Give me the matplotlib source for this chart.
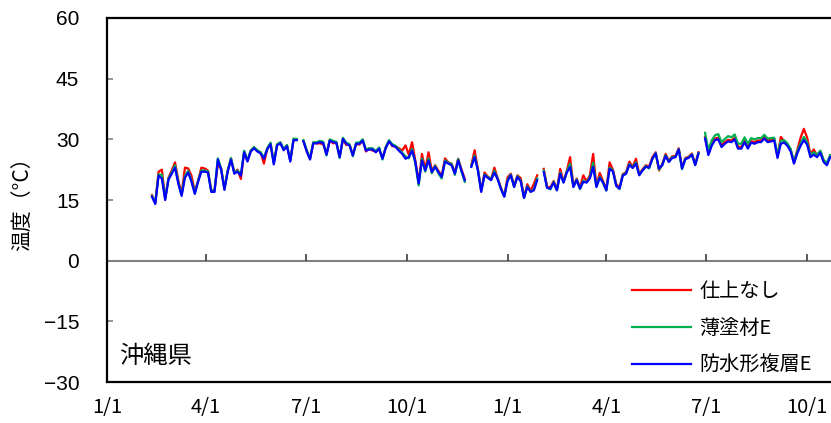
import matplotlib
matplotlib.use('Agg')
import matplotlib.pyplot as plt
import numpy as np
import pandas as pd

nan = np.nan

# --- Daily surface temperature, sampled every 3 days from 2/11 (°C) ---
start_date = '2013-02-11'
sample_step = '3D'

temp_bare = [
    16.2, 14.3, 22.0, 22.5, 15.3, 20.5, 22.3, 24.3, 19.8, 16.5,
    23.0, 22.8, 21.0, 17.0, 19.8, 23.0, 22.8, 22.3, 17.3, 17.5,
    23.8, 22.8, 17.8, 22.3, 25.3, 21.8, 22.5, 20.2, 27.0, 24.8,
    27.2, 28.0, 27.2, 26.8, 24.0, 27.7, 29.0, 24.2, 28.7, 29.2,
    27.5, 28.5, 24.8, 30.0, 30.0, nan, 29.6, 27.2, 25.2, 29.2,
    29.0, 29.0, 28.8, 26.4, 29.8, 29.0, 29.2, 25.8, 30.0, 28.6,
    28.7, 26.2, 28.8, 28.7, 29.8, 27.0, 27.8, 27.2, 27.0, 27.5,
    25.4, 28.0, 29.6, 28.3, 28.3, 27.8, 27.2, 28.5, 26.2, 29.3,
    24.7, 19.3, 26.4, 22.6, 26.8, 22.2, 23.6, 22.2, 21.0, 25.3,
    24.3, 24.0, 21.8, 25.2, 22.6, 20.2, nan, 23.6, 27.3, 22.6,
    17.3, 21.8, 20.8, 20.2, 23.0, 20.4, 18.0, 16.0, 20.6, 21.5,
    18.5, 21.1, 20.4, 15.7, 18.9, 17.3, 19.0, 21.1, nan, 22.7,
    18.3, 18.1, 19.7, 17.6, 22.7, 19.6, 22.2, 25.6, 18.5, 20.3,
    18.1, 21.1, 19.6, 21.1, 26.4, 18.5, 21.7, 19.7, 17.6, 24.3,
    22.5, 19.0, 18.0, 21.4, 21.9, 24.5, 23.2, 25.2, 21.4, 22.6,
    23.6, 23.3, 25.6, 26.8, 22.3, 23.9, 26.4, 24.7, 25.8, 25.9,
    27.8, 23.1, 25.4, 25.7, 26.5, 23.9, 26.8, nan, 30.6, 26.4,
    28.8, 30.2, 30.4, 28.5, 29.3, 29.9, 29.7, 30.4, 28.1, 28.1,
    29.7, 28.1, 29.6, 29.3, 29.7, 29.7, 30.6, 29.7, 29.9, 30.1,
    25.8, 30.6, 29.6, 28.8, 27.4, 24.3, 27.3, 30.4, 32.6, 30.4,
    26.3, 27.5, 26.0, 27.1, 24.8, 23.9, 26.0,
]

temp_thin = [
    16.0, 14.3, 21.3, 21.2, 15.3, 20.3, 21.8, 23.6, 19.3, 16.3,
    21.0, 22.2, 19.8, 16.8, 19.8, 22.3, 22.3, 22.1, 17.3, 17.3,
    25.3, 22.8, 17.8, 22.3, 25.4, 21.8, 22.3, 21.3, 27.2, 24.8,
    27.3, 28.1, 27.3, 26.8, 25.5, 27.8, 29.2, 24.1, 28.8, 29.3,
    27.6, 28.6, 24.8, 30.2, 30.1, nan, 29.8, 27.3, 25.3, 29.3,
    29.3, 29.6, 29.4, 26.0, 30.0, 29.6, 29.4, 25.4, 30.4, 29.2,
    28.8, 25.8, 29.2, 29.2, 30.0, 27.5, 27.8, 27.8, 27.1, 28.0,
    25.0, 28.1, 29.8, 28.8, 28.4, 27.5, 26.7, 25.8, 25.3, 27.6,
    24.0, 18.6, 25.2, 22.0, 25.3, 21.6, 23.5, 21.6, 20.3, 24.8,
    24.2, 23.9, 21.2, 25.1, 22.0, 19.5, nan, 23.4, 26.0, 22.5,
    17.2, 21.3, 20.7, 20.1, 22.2, 20.3, 17.8, 15.9, 19.9, 21.3,
    18.3, 20.9, 19.8, 15.6, 18.4, 17.1, 17.7, 20.3, nan, 22.3,
    18.1, 17.6, 19.5, 17.4, 21.8, 19.4, 22.0, 24.0, 18.3, 20.1,
    17.7, 19.8, 19.4, 20.6, 24.2, 18.3, 20.7, 19.4, 17.3, 23.0,
    22.3, 18.6, 17.7, 21.2, 21.7, 23.9, 23.1, 24.3, 21.2, 22.3,
    23.4, 22.8, 25.2, 26.6, 22.5, 23.7, 26.1, 24.5, 25.6, 25.7,
    27.6, 22.6, 25.2, 25.5, 26.3, 23.7, 26.6, nan, 31.6, 27.3,
    29.7, 31.0, 31.3, 29.3, 30.1, 30.8, 30.5, 31.2, 28.9, 28.9,
    30.5, 28.9, 30.3, 30.0, 30.3, 30.3, 31.1, 30.2, 30.3, 30.4,
    26.0, 29.6, 29.8, 29.0, 27.6, 24.5, 27.0, 29.0, 30.6, 29.3,
    26.1, 26.8, 26.2, 27.2, 24.9, 24.2, 26.1,
]

temp_multi = [
    15.8, 14.0, 21.0, 20.3, 15.0, 20.0, 21.5, 23.0, 19.0, 16.0,
    20.5, 21.8, 19.5, 16.5, 19.5, 22.0, 22.0, 21.8, 17.0, 17.0,
    25.0, 22.5, 17.5, 22.0, 25.0, 21.5, 22.0, 21.0, 26.8, 24.5,
    27.0, 27.8, 27.0, 26.5, 25.2, 27.5, 28.8, 23.8, 28.5, 29.0,
    27.3, 28.3, 24.5, 29.8, 29.8, nan, 29.5, 27.0, 25.0, 29.0,
    29.0, 29.3, 29.1, 26.2, 29.7, 29.3, 29.1, 25.6, 30.1, 28.9,
    28.5, 26.0, 28.9, 28.9, 29.7, 27.2, 27.5, 27.5, 26.8, 27.7,
    25.2, 27.8, 29.5, 28.5, 28.1, 27.2, 26.4, 25.2, 25.6, 27.2,
    24.4, 19.1, 24.8, 22.3, 24.8, 21.9, 23.2, 21.9, 20.7, 24.5,
    24.0, 23.6, 21.5, 24.8, 22.3, 19.9, nan, 23.2, 25.6, 22.3,
    17.0, 21.1, 20.5, 19.9, 21.8, 20.1, 17.7, 15.8, 19.7, 21.1,
    18.2, 20.7, 19.6, 15.5, 18.2, 17.0, 17.4, 19.9, nan, 21.9,
    18.0, 17.8, 19.3, 17.4, 21.5, 19.3, 21.8, 23.2, 18.2, 19.9,
    17.8, 19.5, 19.3, 20.3, 23.2, 18.2, 20.5, 19.3, 17.4, 22.7,
    22.1, 18.5, 17.8, 21.0, 21.5, 23.7, 22.9, 24.0, 21.1, 22.3,
    23.2, 23.0, 25.2, 26.5, 22.8, 23.6, 25.9, 24.4, 25.4, 25.6,
    27.5, 22.8, 25.1, 25.4, 26.2, 23.6, 26.5, nan, 30.2, 26.1,
    28.4, 29.8, 30.0, 28.1, 28.9, 29.5, 29.3, 30.0, 27.7, 27.7,
    29.3, 27.7, 29.2, 28.9, 29.3, 29.3, 30.2, 29.3, 29.5, 29.7,
    25.4, 28.9, 29.2, 28.4, 27.0, 24.0, 26.5, 28.4, 29.8, 28.7,
    25.6, 26.2, 25.6, 26.7, 24.4, 23.6, 25.6,
]

series_labels = ['仕上なし', '薄塗材E', '防水形複層E']
series_colors = ['#FF0000', '#00B050', '#0000FF']

tick_dates = ['2013-01-01', '2013-04-01', '2013-07-01', '2013-10-01',
              '2014-01-01', '2014-04-01', '2014-07-01', '2014-10-01']
tick_labels = ['1/1', '4/1', '7/1', '10/1', '1/1', '4/1', '7/1', '10/1']
y_ticks = [-30, -15, 0, 15, 30, 45, 60]
y_tick_labels = ['−30', '−15', '0', '15', '30', '45', '60']
region_name = '沖縄県'

jp_font = ['Noto Sans CJK JP', 'DejaVu Sans']

fig = plt.figure(figsize=(8.31, 4.23), dpi=100)
# axes runs on past the right edge of the figure (full two years)
ax = fig.add_axes([107 / 831, 41 / 423, 800 / 831, 364 / 423])

for vals, lab, col in zip([temp_bare, temp_thin, temp_multi], series_labels, series_colors):
    dates = pd.date_range(start_date, periods=len(vals), freq=sample_step)
    ax.plot(dates, vals, color=col, lw=1.6, label=lab)

ticks = pd.to_datetime(tick_dates)
ax.set_xlim(pd.Timestamp('2013-01-01'), pd.Timestamp('2014-12-31'))
ax.set_ylim(-30, 60)

# zero line with small upward ticks at each quarter
ax.axhline(0, color='#808080', lw=1.5, zorder=1)
ax.vlines(ticks[1:], 0, 1.7, color='#404040', lw=1.2, zorder=1)

ax.set_xticks(ticks)
ax.set_xticklabels(tick_labels, family=jp_font, fontsize=14.5)
ax.tick_params(axis='x', length=0, pad=11)

ax.set_yticks(y_ticks)
ax.set_yticklabels(y_tick_labels, family='Liberation Sans', fontsize=15)
ax.tick_params(axis='y', direction='in', length=4.5, width=1.2, color='#808080', pad=20)

for sp in ax.spines.values():
    sp.set_linewidth(1.6)
    sp.set_color('black')

fig.text(0.027, 0.53, '温度（°C）', rotation=90, ha='center', va='center',
         family=jp_font, fontsize=15)
fig.text(119 / 831, 1 - 356 / 423, region_name, ha='left', va='center',
         family=jp_font, fontsize=17.5)

leg = ax.legend(loc='upper left', bbox_to_anchor=(614 / 831, 1 - 263 / 423),
                bbox_transform=fig.transFigure, frameon=False,
                prop={'family': jp_font, 'size': 14.5},
                handlelength=2.9, handletextpad=0.45, labelspacing=0.8)

fig.savefig('out.png', dpi=100)
